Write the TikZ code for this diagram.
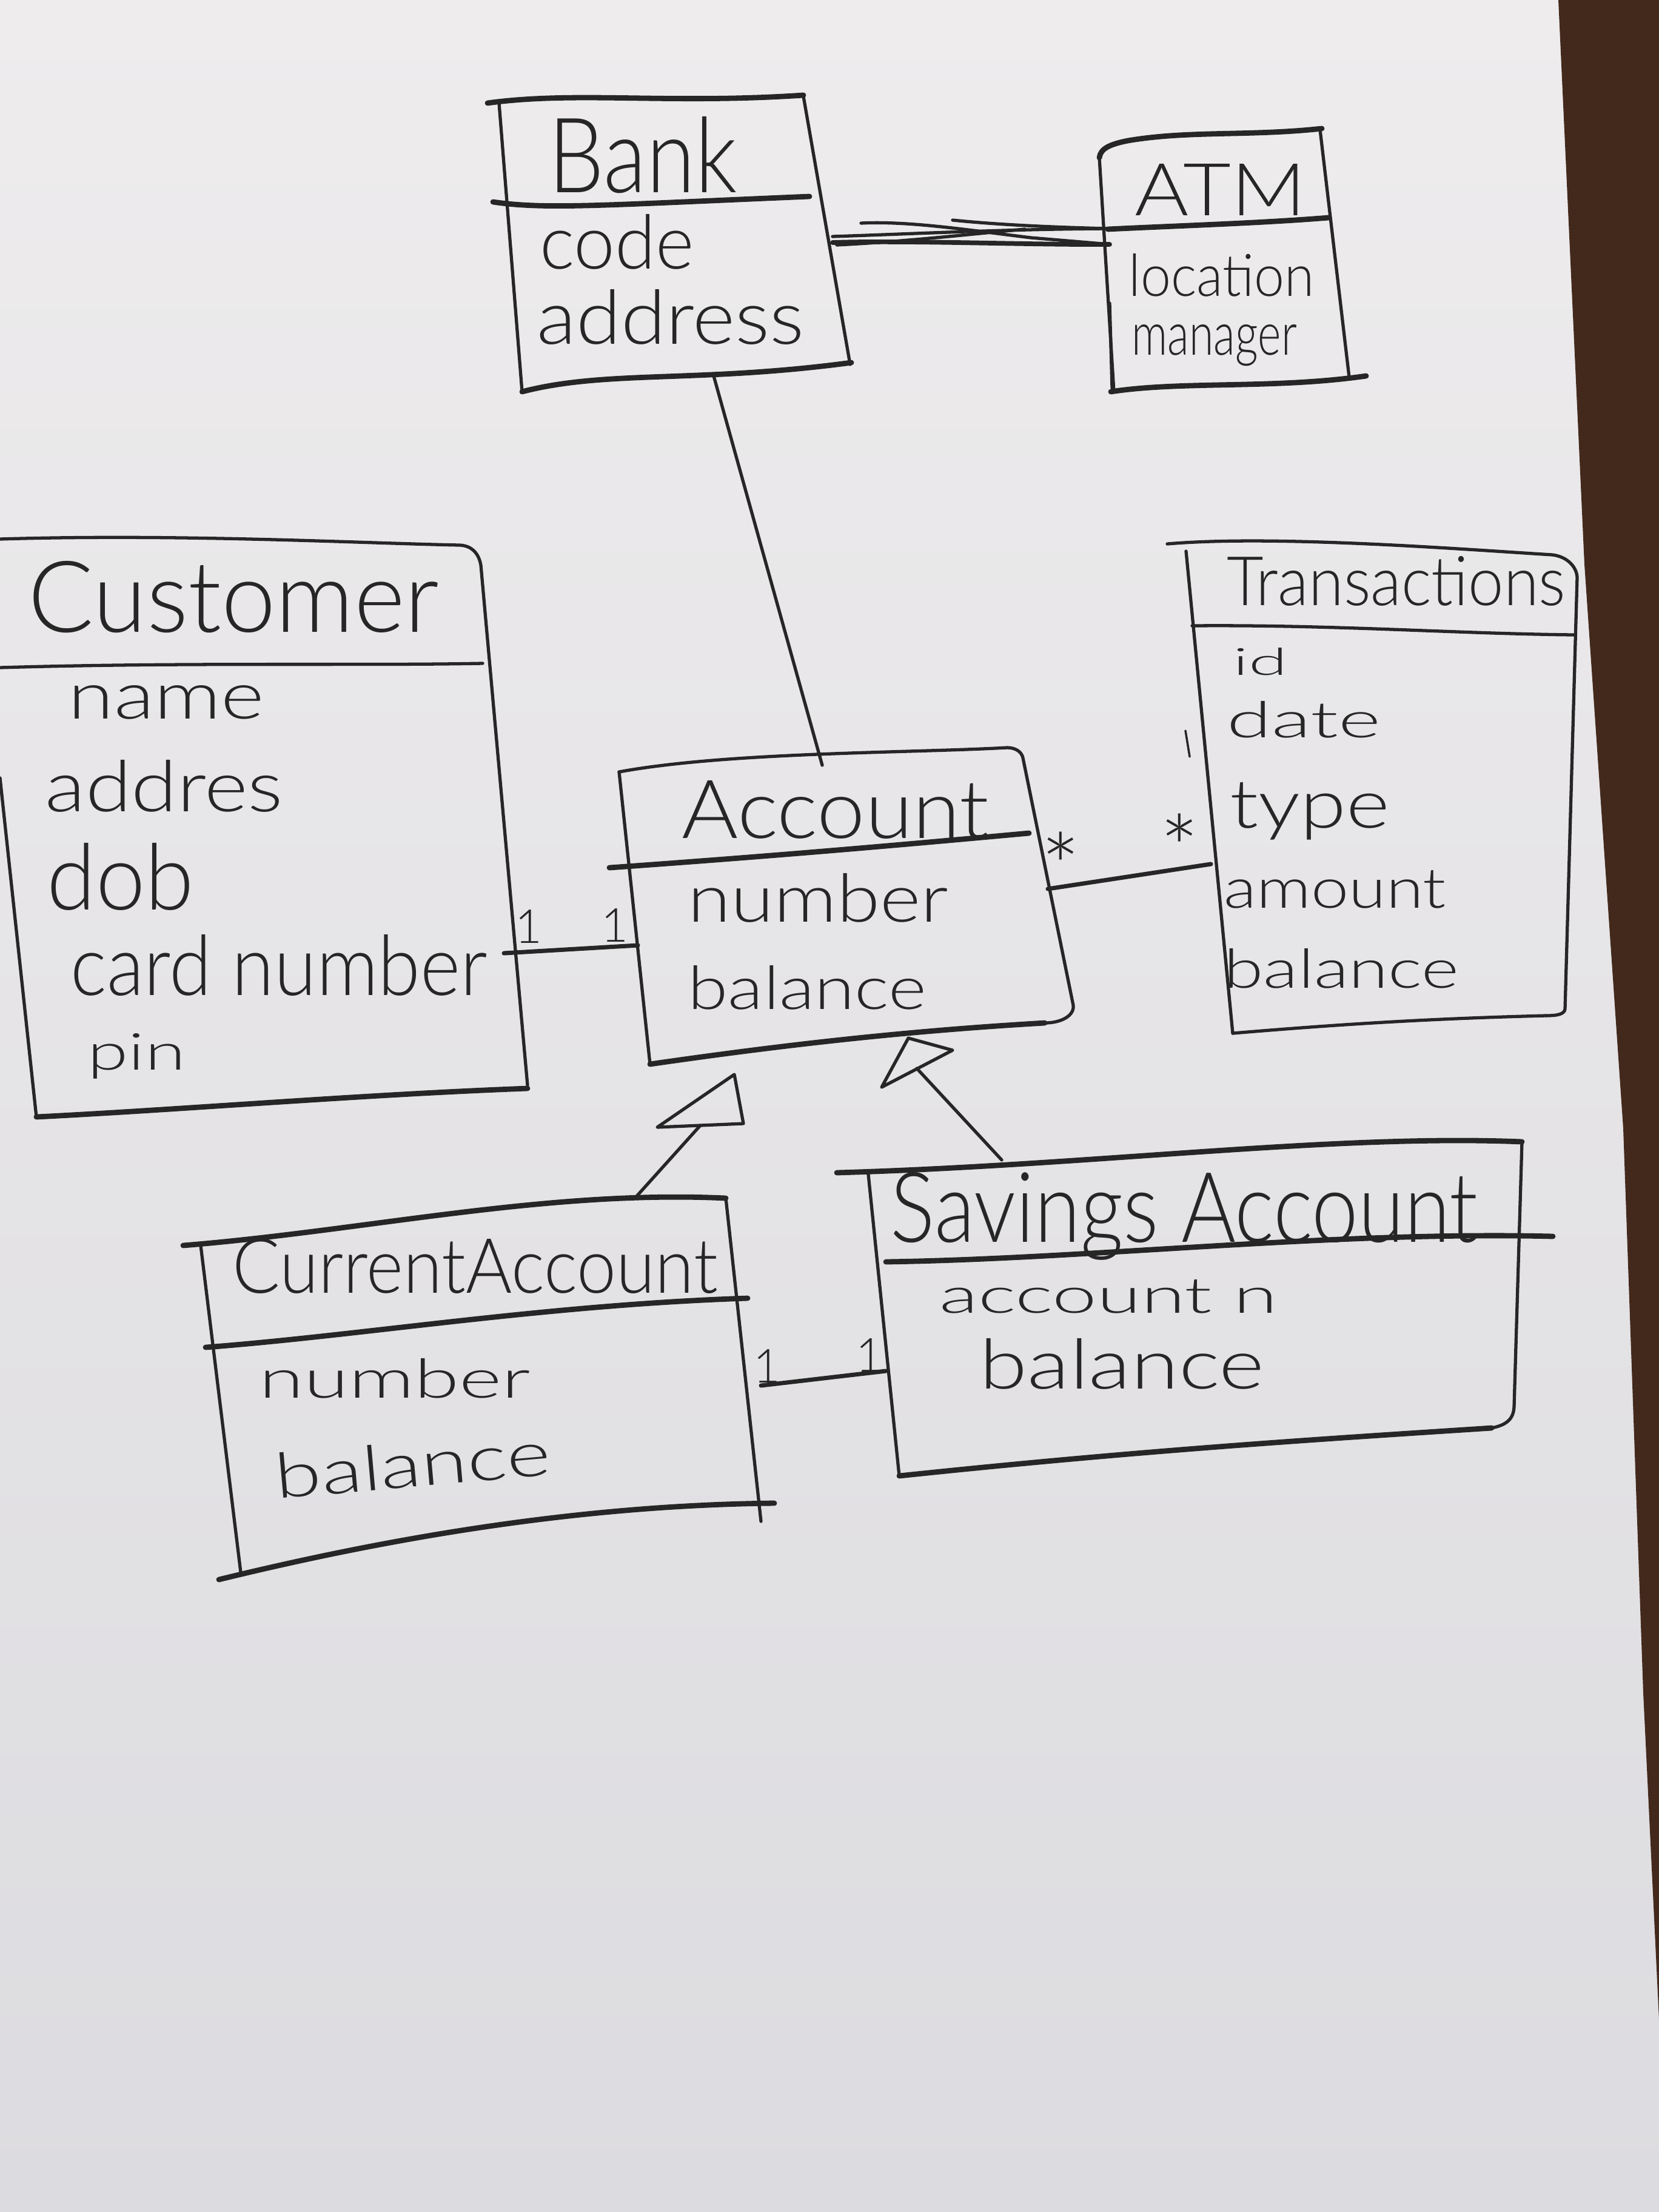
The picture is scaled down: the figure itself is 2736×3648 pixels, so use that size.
\documentclass[tikz,border=0pt]{standalone}
\usepackage{fontspec}
\setmainfont{Lato}[UprightFont=* Light]
\usepackage{graphicx}
\definecolor{ink}{HTML}{262626}
\definecolor{papertop}{HTML}{EEECED}
\definecolor{paperbot}{HTML}{DCDBDF}
\definecolor{wood}{HTML}{43291C}
\begin{document}
\begin{tikzpicture}[x=0.01cm,y=-0.01cm,
  side/.style={draw=ink, line width=1.5pt, line cap=round, line join=round},
  edgeline/.style={draw=ink, line width=2.5pt, line cap=round, line join=round},
  conn/.style={draw=ink, line width=1.5pt, line cap=round, line join=round},
  hw/.style={anchor=base west, inner sep=0pt, text=ink},
  mult/.style={anchor=base, inner sep=0pt, text=ink, font=\fontsize{22}{26}\selectfont},
  star/.style={anchor=center, inner sep=0pt, text=ink, font=\fontsize{44}{48}\selectfont}]
\newcommand\hwt[5]{\node[hw] (#1) at (#2) {\resizebox{#3}{#4}{#5}};}
% background
\useasboundingbox (0,0) rectangle (2736,3648);
\shade[top color=papertop, bottom color=paperbot] (0,0) rectangle (2736,3648);
\fill[wood] (2570,0) -- (2613,931) -- (2677,1861) -- (2710,2792) -- (2736,3330) -- (2736,0) -- cycle;

% ---------------- Bank
\draw[edgeline] (804,170) .. controls (950,150) and (1100,172) .. (1325,157);
\draw[side] (823,170) -- (861,646);
\draw[side] (1325,159) -- (1402,601);
\draw[edgeline] (861,646) .. controls (1000,610) and (1150,632) .. (1404,598);
\draw[edgeline] (813,333) .. controls (900,346) and (1000,338) .. (1335,324);
\hwt{bankname}{904,317}{3.11cm}{1.25cm}{Bank}
\hwt{bankcode}{890,443}{2.54cm}{0.9cm}{code}
\hwt{bankaddr}{885,567}{4.40cm}{0.9cm}{address}
\coordinate (bankR) at (1373,400);
\coordinate (bankB) at (1177,620);

% ---------------- ATM
\draw[edgeline] (1813,260) .. controls (1815,245) and (1830,238) .. (1860,232) .. controls (1960,215) and (2060,225) .. (2180,212);
\draw[side] (1813,260) -- (1837,646);
\draw[side] (1830,500) -- (1834,640);
\draw[side] (2177,214) -- (2225,622);
\draw[edgeline] (1832,646) .. controls (1950,628) and (2100,642) .. (2253,620);
\draw[edgeline] (1827,378) .. controls (1950,372) and (2080,368) .. (2191,359);
\hwt{atmname}{1871,355}{2.82cm}{0.85cm}{ATM}
\hwt{atmloc}{1861,488}{3.06cm}{0.7cm}{location}
\hwt{atmman}{1866,585}{2.72cm}{0.5cm}{manager}
\coordinate (atmL) at (1830,403);
\coordinate (atmLu) at (1830,377);

% Bank -- ATM (scribbled association)
\draw[conn, line width=2.2pt] (bankR) .. controls (1500,396) and (1700,404) .. (atmL);
\draw[conn] (1373,390) .. controls (1500,386) and (1650,378) .. (atmLu);
\draw[conn] (1420,368) .. controls (1500,364) and (1600,380) .. (1700,392) -- (atmL);
\draw[conn] (1571,363) .. controls (1620,368) and (1700,374) .. (atmLu);
\draw[conn] (1380,404) .. controls (1500,398) and (1600,386) .. (1690,378);

% ---------------- Customer
\draw[side] (0,889) .. controls (300,880) and (600,896) .. (758,899) .. controls (780,900) and (790,915) .. (793,932) -- (870,1790);
\draw[side] (0,1283) -- (60,1842);
\draw[edgeline] (870,1795) .. controls (600,1805) and (300,1830) .. (60,1842);
\draw[side] (0,1101) .. controls (300,1092) and (600,1098) .. (796,1094);
\hwt{custname}{46,1042}{6.77cm}{1.17cm}{Customer}
\hwt{custa}{112,1185}{3.23cm}{0.55cm}{name}
\hwt{custb}{74,1338}{3.92cm}{0.85cm}{addres}
\hwt{custc}{77,1500}{2.42cm}{1.1cm}{dob}
\hwt{custd}{116,1641}{6.87cm}{1.0cm}{card number}
\hwt{custe}{144,1764}{1.61cm}{0.6cm}{pin}
\coordinate (custR) at (831,1572);

% ---------------- Account
\draw[side] (1021,1273) .. controls (1200,1240) and (1500,1242) .. (1661,1233) .. controls (1675,1233) and (1685,1240) .. (1687,1250) -- (1770,1658) .. controls (1772,1675) and (1750,1687) .. (1723,1687);
\draw[edgeline] (1723,1687) .. controls (1500,1700) and (1300,1722) .. (1072,1755);
\draw[side] (1021,1273) -- (1072,1755);
\draw[edgeline] (1005,1431) .. controls (1300,1410) and (1500,1392) .. (1697,1374);
\hwt{accname}{1124,1382}{5.06cm}{0.95cm}{Account}
\hwt{acca}{1134,1520}{4.29cm}{0.8cm}{number}
\hwt{accb}{1134,1664}{3.93cm}{0.72cm}{balance}
\coordinate (accT) at (1356,1262);
\coordinate (accL) at (1052,1559);
\coordinate (accR) at (1728,1466);
\coordinate (accCA) at (1211,1772);
\coordinate (accSA) at (1498,1712);

% ---------------- Transactions
\draw[side] (1925,897) .. controls (2100,882) and (2400,905) .. (2560,915) .. controls (2585,918) and (2600,935) .. (2601,952) -- (2581,1664) .. controls (2580,1672) and (2570,1675) .. (2550,1675);
\draw[side] (2550,1675) .. controls (2350,1680) and (2200,1690) .. (2033,1704);
\draw[side] (1956,909) -- (2033,1704);
\draw[side] (1966,1032) .. controls (2200,1030) and (2400,1045) .. (2596,1047);
\draw[side, line width=1pt] (1955,1205) -- (1962,1248);
\hwt{trname}{2023,998}{5.58cm}{0.81cm}{Transactions}
\hwt{tra}{2033,1113}{0.9cm}{0.45cm}{id}
\hwt{trb}{2023,1216}{2.53cm}{0.6cm}{date}
\hwt{trc}{2028,1365}{2.63cm}{0.75cm}{type}
\hwt{trd}{2018,1497}{3.66cm}{0.62cm}{amount}
\hwt{tre}{2018,1629}{3.87cm}{0.65cm}{balance}
\coordinate (trL) at (1997,1425);

% ---------------- CurrentAccount
\draw[edgeline] (302,2054) .. controls (600,2030) and (900,1962) .. (1197,1976);
\draw[side] (331,2054) -- (397,2593);
\draw[side] (1197,1976) -- (1255,2509);
\draw[edgeline] (361,2605) .. controls (700,2522) and (1000,2482) .. (1277,2479);
\draw[edgeline] (339,2222) .. controls (600,2202) and (900,2152) .. (1233,2141);
\hwt{caname}{383,2132}{7.99cm}{0.9cm}{CurrentAccount}
\hwt{caa}{427,2305}{4.47cm}{0.65cm}{number}
\node[hw, rotate=5] (cab) at (456,2472) {\resizebox{4.55cm}{0.75cm}{balance}};
\coordinate (caT) at (1047,1976);
\coordinate (caR) at (1255,2285);

% ---------------- Savings Account
\draw[edgeline] (1380,1934) .. controls (1800,1922) and (2200,1870) .. (2510,1883);
\draw[side] (1432,1937) -- (1483,2434);
\draw[side] (2510,1883) -- (2497,2320) .. controls (2496,2340) and (2485,2350) .. (2460,2355);
\draw[edgeline] (2460,2355) .. controls (2200,2372) and (1900,2390) .. (1483,2434);
\draw[edgeline] (1461,2081) .. controls (1800,2076) and (2200,2030) .. (2561,2039);
\hwt{saname}{1468,2048}{9.68cm}{1.15cm}{Savings Account}
\hwt{saa}{1549,2165}{5.57cm}{0.55cm}{account n}
\hwt{sab}{1615,2290}{4.69cm}{0.83cm}{balance}
\coordinate (saT) at (1652,1913);
\coordinate (saL) at (1461,2261);

% ---------------- connectors
% Bank -- Account
\draw[conn] (bankB) -- (accT);
% Customer -- Account
\draw[conn, line width=2pt] (custR) -- (accL);
\node[mult] (m1) at (872,1555) {1};
\node[mult] (m2) at (1014,1553) {1};
% Account -- Transactions
\draw[conn, line width=2pt] (accR) -- (trL);
\node[star] (s1) at (1749,1430) {*};
\node[star] (s2) at (1945,1400) {*};
% CurrentAccount -- SavingsAccount
\draw[conn, line width=2pt] (caR) -- (saL);
\node[mult] (m3) at (1265,2280) {1};
\node[mult] (m4) at (1434,2262) {1};
% generalizations
\draw[conn] (1084,1859) -- (accCA) -- (1226,1853) -- cycle;
\draw[conn] (caT) -- (1155,1856);
\draw[conn] (1454,1793) -- (accSA) -- (1571,1732) -- cycle;
\draw[conn] (1512,1762) -- (saT);
\end{tikzpicture}
\end{document}
